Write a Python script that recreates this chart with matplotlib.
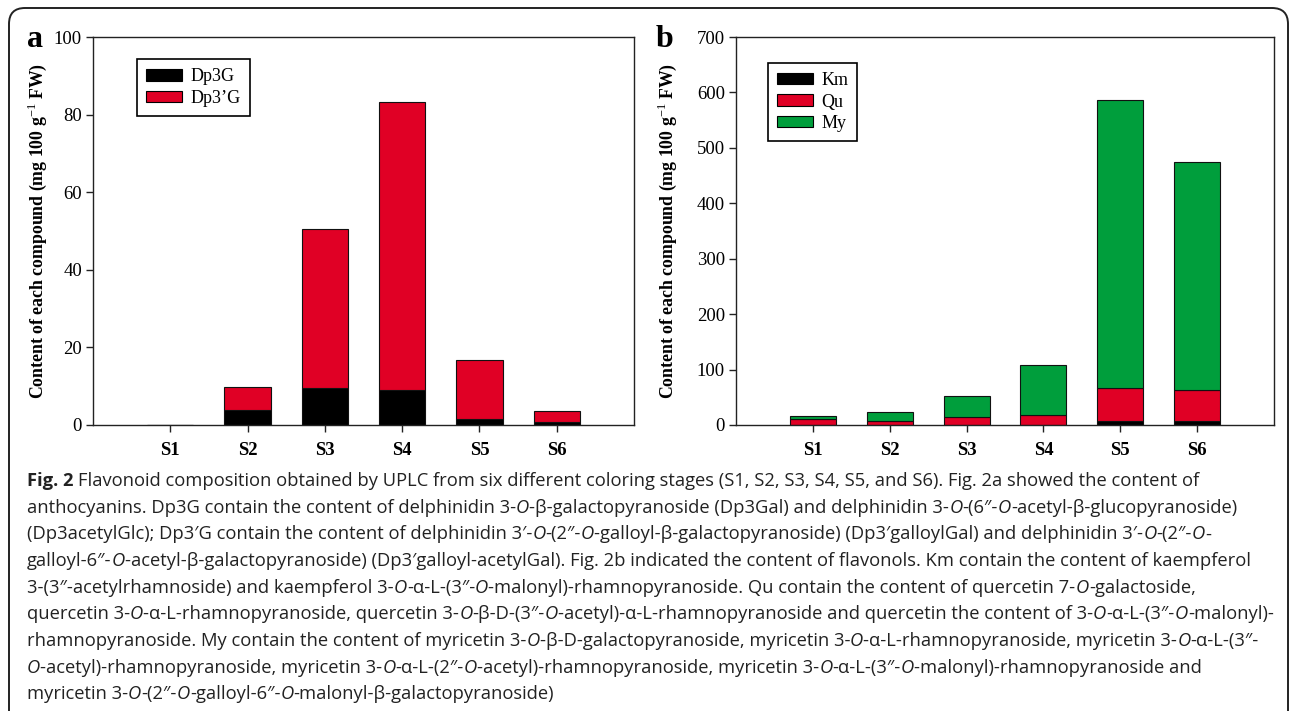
import re
import matplotlib
matplotlib.use('Agg')
import matplotlib.pyplot as plt
from matplotlib.patches import FancyBboxPatch
import numpy as np

# ---- data ----
stages = ['S1', 'S2', 'S3', 'S4', 'S5', 'S6']

# panel a: anthocyanins (mg 100 g-1 FW)
dp3g = [0.0, 3.9, 9.6, 9.0, 1.5, 0.9]
dp3pg = [0.0, 6.0, 40.9, 74.2, 15.3, 2.8]

# panel b: flavonols (mg 100 g-1 FW)
km = [0.3, 0.3, 0.5, 0.6, 7.5, 7.5]
qu = [9.7, 7.5, 13.3, 18.1, 58.7, 55.1]
my = [6.3, 16.2, 38.6, 89.1, 519.8, 411.2]

caption_lines = [
    "Flavonoid composition obtained by UPLC from six different coloring stages (S1, S2, S3, S4, S5, and S6). Fig. 2a showed the content of",
    "anthocyanins. Dp3G contain the content of delphinidin 3-{O}-β-galactopyranoside (Dp3Gal) and delphinidin 3-{O}-(6″-{O}-acetyl-β-glucopyranoside)",
    "(Dp3acetylGlc); Dp3′G contain the content of delphinidin 3′-{O}-(2″-{O}-galloyl-β-galactopyranoside) (Dp3′galloylGal) and delphinidin 3′-{O}-(2″-{O}-",
    "galloyl-6″-{O}-acetyl-β-galactopyranoside) (Dp3′galloyl-acetylGal). Fig. 2b indicated the content of flavonols. Km contain the content of kaempferol",
    "3-(3″-acetylrhamnoside) and kaempferol 3-{O}-α-L-(3″-{O}-malonyl)-rhamnopyranoside. Qu contain the content of quercetin 7-{O}-galactoside,",
    "quercetin 3-{O}-α-L-rhamnopyranoside, quercetin 3-{O}-β-D-(3″-{O}-acetyl)-α-L-rhamnopyranoside and quercetin the content of 3-{O}-α-L-(3″-{O}-malonyl)-",
    "rhamnopyranoside. My contain the content of myricetin 3-{O}-β-D-galactopyranoside, myricetin 3-{O}-α-L-rhamnopyranoside, myricetin 3-{O}-α-L-(3″-",
    "{O}-acetyl)-rhamnopyranoside, myricetin 3-{O}-α-L-(2″-{O}-acetyl)-rhamnopyranoside, myricetin 3-{O}-α-L-(3″-{O}-malonyl)-rhamnopyranoside and",
    "myricetin 3-{O}-(2″-{O}-galloyl-6″-{O}-malonyl-β-galactopyranoside)",
]

BLACK = '#000000'
RED = '#E00025'
GREEN = '#009E3C'
AXIS = '#222222'

plt.rcParams['font.family'] = ['Liberation Serif', 'DejaVu Serif']
plt.rcParams['mathtext.fontset'] = 'custom'
plt.rcParams['mathtext.rm'] = 'Liberation Serif'
plt.rcParams['mathtext.bf'] = 'Liberation Serif:bold'

W, H = 1290, 711
fig = plt.figure(figsize=(W / 100, H / 100), dpi=100, facecolor='white')

# rounded frame round the whole figure
frame = FancyBboxPatch((0.09, -0.3), 12.79, 7.33,
                       boxstyle='round,pad=0,rounding_size=0.16',
                       transform=fig.dpi_scale_trans, facecolor='none',
                       edgecolor='#222222', linewidth=1.4, clip_on=False)
fig.add_artist(frame)

ax_a = fig.add_axes([93 / W, 1 - 425 / H, (634 - 93) / W, (425 - 37) / H])
ax_b = fig.add_axes([736 / W, 1 - 425 / H, (1274 - 736) / W, (425 - 37) / H])

x = np.arange(1, len(stages) + 1)
bw = 0.6
edge = dict(edgecolor='#111111', linewidth=0.8)

ax_a.bar(x, dp3g, bw, color=BLACK, label='Dp3G', **edge)
ax_a.bar(x, dp3pg, bw, bottom=dp3g, color=RED, label='Dp3’G', **edge)

bot_my = np.array(km) + np.array(qu)
ax_b.bar(x, km, bw, color=BLACK, label='Km', **edge)
ax_b.bar(x, qu, bw, bottom=km, color=RED, label='Qu', **edge)
ax_b.bar(x, my, bw, bottom=bot_my, color=GREEN, label='My', **edge)

ylabel = 'Content of each compound (mg 100 g$^{\\mathrm{-1}}$ FW)'
for ax, ymax, step, lab_x, leg_anchor in [
        (ax_a, 100, 20, -0.082, (0.0813, 0.943)),
        (ax_b, 700, 100, -0.106, (0.0595, 0.933))]:
    ax.set_xlim(0, 7)
    ax.set_ylim(0, ymax)
    ax.set_yticks(np.arange(0, ymax + 1, step))
    ax.set_xticks(x)
    ax.set_xticklabels(stages, fontweight='bold', fontsize=13.5)
    ax.tick_params(axis='x', length=5, width=1, pad=7, color=AXIS)
    ax.tick_params(axis='y', length=5, width=1, pad=3, labelsize=13.5, color=AXIS)
    for sp in ax.spines.values():
        sp.set_linewidth(1.0)
        sp.set_color(AXIS)
    ax.set_ylabel(ylabel, fontweight='bold', fontsize=12.8)
    ax.yaxis.set_label_coords(lab_x, 0.5)
    leg = ax.legend(loc='upper left', bbox_to_anchor=leg_anchor, borderaxespad=0,
                    fontsize=13, fancybox=False, framealpha=1, edgecolor='black',
                    handlelength=2.0, handleheight=0.6, handletextpad=0.45,
                    labelspacing=0.25, borderpad=0.5)
    leg.get_frame().set_linewidth(1.2)
    for h in leg.legend_handles:
        h.set_edgecolor('black')
        h.set_linewidth(0.8)

fig.text(35.5 / W, 1 - 47 / H, 'a', fontsize=23, fontweight='bold', ha='center', va='baseline')
fig.text(665 / W, 1 - 47 / H, 'b', fontsize=23, fontweight='bold', ha='center', va='baseline')

# ---- caption, drawn segment by segment so the O's can be italic ----
cap_font = ['Open Sans', 'DejaVu Sans']
cap_size = 13.25
cap_color = '#222222'
renderer = fig.canvas.get_renderer()


def seg_width(t):
    return t.get_window_extent(renderer).width


def put(px, base, s, **kw):
    return fig.text(px / W, 1 - base / H, s, family=cap_font, fontsize=cap_size,
                    color=cap_color, ha='left', va='baseline', **kw)


probe1 = put(0, -50, 'a a')
probe2 = put(0, -50, 'aa')
space_w = seg_width(probe1) - seg_width(probe2)
probe1.remove()
probe2.remove()

x0 = 27
base0 = 486
line_gap = 26.65
for i, line in enumerate(caption_lines):
    base = base0 + i * line_gap
    px = x0
    if i == 0:
        t = put(px, base, 'Fig. 2', fontweight='bold')
        px += seg_width(t) + space_w
    parts = re.split(r'\{(.*?)\}', line)
    for j, part in enumerate(parts):
        if not part:
            continue
        t = put(px, base, part, fontstyle='italic' if j % 2 else 'normal')
        px += seg_width(t)

fig.savefig('out.png', dpi=100, facecolor='white')
